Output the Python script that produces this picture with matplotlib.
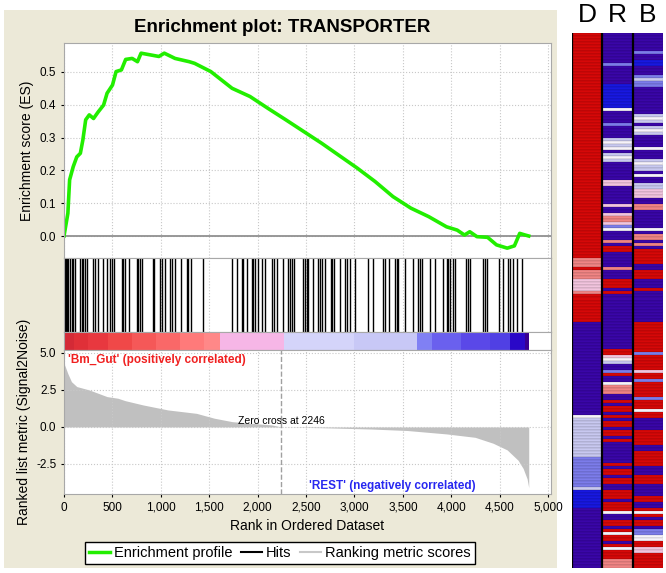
import numpy as np
import matplotlib
matplotlib.use('Agg')
import matplotlib.pyplot as plt
from matplotlib.colors import ListedColormap
from matplotlib.lines import Line2D
from matplotlib.patches import Rectangle

plt.rcParams['font.family'] = ['Liberation Sans', 'DejaVu Sans']

# running enrichment score (rank, ES)
es_rank = [0, 40, 58, 95, 132, 169, 195, 224, 261, 305, 353, 409, 445, 501, 538, 593, 637, 704,
           759, 796, 888, 980, 1036, 1147, 1294, 1349, 1516, 1736, 1921, 2106, 2291, 2659, 3028,
           3213, 3398, 3582, 3767, 3951, 4061, 4136, 4191, 4265, 4375, 4467, 4578, 4652, 4707,
           4763, 4800]
es_val = [0.0, 0.069, 0.171, 0.211, 0.241, 0.252, 0.293, 0.354, 0.369, 0.358, 0.378, 0.399,
          0.435, 0.46, 0.501, 0.506, 0.538, 0.541, 0.531, 0.557, 0.552, 0.547, 0.557, 0.541,
          0.531, 0.526, 0.501, 0.45, 0.425, 0.389, 0.354, 0.283, 0.207, 0.166, 0.12, 0.085,
          0.059, 0.028, 0.018, 0.003, 0.013, -0.002, -0.004, -0.027, -0.037, -0.03, 0.008,
          0.003, 0.0]

# positions of gene set members in the ranked list
hit_ranks = [8, 18, 28, 44, 62, 80, 96, 114, 165, 183, 199, 217, 235, 303, 320, 354, 406, 441,
             475, 493, 520, 596, 613, 630, 671, 751, 768, 785, 809, 916, 933, 992, 1009, 1043,
             1095, 1112, 1147, 1206, 1268, 1284, 1312, 1439, 1732, 1784, 1836, 1852, 1887, 1939,
             1956, 1973, 2001, 2042, 2076, 2152, 2173, 2197, 2265, 2317, 2335, 2358, 2376, 2472,
             2490, 2507, 2524, 2576, 2627, 2645, 2662, 2696, 2755, 2772, 2789, 2851, 2903, 2920,
             2955, 3006, 3137, 3195, 3292, 3316, 3361, 3419, 3437, 3454, 3523, 3609, 3661, 3678,
             3695, 3781, 3833, 3919, 3953, 3970, 3988, 4022, 4039, 4153, 4177, 4194, 4332, 4349,
             4367, 4497, 4539, 4590, 4607, 4635, 4676, 4728]

# ranked list metric (Signal2Noise)
metric_rank = [0, 40, 77, 132, 261, 445, 557, 630, 815, 1073, 1368, 1553, 1736, 1921, 2143,
               2246, 2657, 3175, 3545, 3950, 4246, 4432, 4577, 4690, 4742, 4783, 4800]
metric_val = [4.3, 3.6, 3.06, 2.73, 2.5, 2.05, 1.94, 1.78, 1.49, 1.15, 0.92, 0.59, 0.36, 0.25,
              0.14, 0.0, -0.05, -0.14, -0.24, -0.47, -0.7, -1.1, -1.55, -2.25, -2.8, -3.5, -4.1]
zero_cross = 2246

# colour bar under the hits
cbar_edges = [0, 100, 250, 450, 700, 950, 1200, 1450, 1615, 2277, 3000, 3646, 3800, 4100, 4400,
              4607, 4760, 4800]
cbar_colors = ['#d42a36', '#e03038', '#e8383f', '#f04848', '#f55858', '#fa6868', '#ff7a7a',
               '#ff8888', '#f6b6e6', '#d4d4fa', '#c8c8f6', '#8080f4', '#6a60ee', '#5a48e8',
               '#5040e4', '#2a08c8', '#3a0090']

# heatmap on the right: run lengths of (colour level, rows)
heat_labels = ['D', 'R', 'B']
heat_colors = ['#3a06a8', '#1818e0', '#7c7cea', '#c8c8f0', '#f6f2fa', '#f2c4de', '#f08484',
               '#d60808']
heat_D = [(7, 75), (6, 3), (7, 1), (6, 3), (5, 4), (6, 1), (7, 9), (0, 31), (4, 1), (3, 13),
          (2, 10), (3, 1), (1, 6), (0, 20)]
heat_R = [(0, 10), (2, 1), (0, 6), (1, 8), (4, 1), (0, 4), (2, 1), (0, 4), (3, 1), (4, 1), (3, 1),
          (4, 1), (0, 1), (3, 1), (4, 1), (3, 1), (0, 6), (5, 2), (0, 6), (5, 1), (0, 2), (5, 1),
          (6, 2), (5, 1), (2, 1), (4, 1), (0, 3), (6, 1), (0, 1), (7, 2), (0, 5), (6, 1), (0, 3),
          (7, 3), (0, 1), (7, 1), (0, 18), (7, 2), (5, 1), (4, 1), (3, 1), (0, 2), (2, 1), (7, 1),
          (0, 2), (4, 1), (6, 3), (0, 2), (7, 1), (0, 1), (7, 2), (0, 1), (7, 1), (0, 1), (7, 2),
          (0, 1), (7, 2), (0, 1), (7, 1), (0, 7), (7, 1), (0, 1), (7, 2), (0, 1), (7, 2), (0, 2),
          (7, 3), (0, 1), (7, 3), (4, 1), (0, 2), (7, 2), (0, 1), (7, 1), (4, 1), (7, 2), (0, 1),
          (7, 1), (4, 1), (7, 3), (6, 3)]
heat_B = [(0, 6), (2, 1), (0, 2), (1, 2), (0, 3), (2, 1), (3, 1), (2, 2), (0, 9), (3, 1), (4, 1),
          (3, 1), (0, 1), (3, 1), (4, 1), (3, 1), (0, 4), (4, 1), (0, 3), (3, 1), (4, 1), (3, 2),
          (0, 1), (4, 1), (0, 2), (3, 2), (5, 3), (0, 2), (6, 2), (0, 6), (4, 1), (0, 1), (6, 2),
          (0, 1), (6, 1), (0, 1), (7, 5), (0, 2), (7, 3), (0, 3), (7, 1), (0, 10), (7, 10), (2, 1),
          (7, 5), (5, 1), (7, 2), (2, 1), (7, 5), (2, 1), (7, 3), (4, 1), (7, 2), (0, 4), (7, 5),
          (0, 2), (7, 5), (0, 3), (7, 3), (0, 4), (7, 2), (0, 2), (7, 1), (4, 1), (7, 1), (0, 1),
          (7, 2), (0, 1), (2, 2), (4, 2), (7, 2), (5, 2), (7, 4)]
n_rows = 178

W, H = 666, 573
fig = plt.figure(figsize=(W / 100, H / 100), dpi=100)


def box(l, t, r, b):
    return [l / W, 1 - b / H, (r - l) / W, (b - t) / H]


fig.add_artist(Rectangle((4 / W, 1 - 568 / H), 553 / W, 558 / H, transform=fig.transFigure,
                         facecolor='#ece9d8', edgecolor='none', zorder=0))
fig.text(282 / W, 1 - 27 / H, 'Enrichment plot: TRANSPORTER', ha='center', va='center',
         fontsize=13.5, fontweight='bold')

spine_col = '#a8a8a8'
grid_kw = dict(ls=':', color='#c8c8c8', lw=0.8)
xmax = 5030


def style(ax):
    for s in ax.spines.values():
        s.set_color(spine_col)
    ax.tick_params(colors='black', labelsize=8.5, length=2)
    ax.set_xlim(0, xmax)


# enrichment profile
ax1 = fig.add_axes(box(64, 43, 551, 258))
style(ax1)
ax1.set_xticks(range(0, 5001, 500))
ax1.tick_params(axis='x', labelbottom=False, length=0)
ax1.grid(True, **grid_kw)
ax1.axhline(0, color='#909090', lw=1.3)
ax1.plot(es_rank, es_val, color='#22ee00', lw=2.6)
ax1.set_ylim(-0.067, 0.588)
ax1.set_yticks([0, 0.1, 0.2, 0.3, 0.4, 0.5])
ax1.set_yticklabels(['0.0', '0.1', '0.2', '0.3', '0.4', '0.5'])
ax1.set_ylabel('Enrichment score (ES)', fontsize=10)

# hits
ax2 = fig.add_axes(box(64, 258, 551, 332))
style(ax2)
ax2.set_xticks(range(0, 5001, 500))
ax2.grid(True, axis='x', **grid_kw)
ax2.tick_params(length=0, labelbottom=False, labelleft=False)
ax2.set_yticks([])
ax2.vlines(hit_ranks, 0, 1, color='black', lw=1.0)
ax2.set_ylim(0, 1)

# colour bar
ax3 = fig.add_axes(box(64, 332, 551, 350))
style(ax3)
ax3.bar(cbar_edges[:-1], 1, width=np.diff(cbar_edges), align='edge', color=cbar_colors, lw=0)
ax3.set_ylim(0, 1)
ax3.set_xticks([])
ax3.set_yticks([])

# ranked list metric
ax4 = fig.add_axes(box(64, 350, 551, 494))
style(ax4)
ax4.set_xticks(range(0, 5001, 500))
ax4.set_xticklabels([f'{v:,}' for v in range(0, 5001, 500)])
ax4.grid(True, **grid_kw)
ax4.fill_between(metric_rank, 0, metric_val, color='#c0c0c0', lw=0)
ax4.axvline(zero_cross, color='#a0a0a0', ls='--', lw=1)
ax4.set_ylim(-4.53, 5.2)
ax4.set_yticks([-2.5, 0, 2.5, 5.0])
ax4.set_yticklabels(['-2.5', '0.0', '2.5', '5.0'])
ax4.set_xlabel('Rank in Ordered Dataset', fontsize=10)
ax4.set_ylabel('Ranked list metric (Signal2Noise)', fontsize=10)
ax4.text(zero_cross, 0.05, f'Zero cross at {zero_cross}', ha='center', va='bottom', fontsize=7.5)
ax4.text(0.008, 0.975, "'Bm_Gut' (positively correlated)", transform=ax4.transAxes,
         ha='left', va='top', color='#f02020', fontsize=8.5, fontweight='bold')
ax4.text(2530, -4.0, "'REST' (negatively correlated)", ha='left', va='center',
         color='#2828f0', fontsize=8.5, fontweight='bold')

handles = [Line2D([], [], color='#22ee00', lw=2.5), Line2D([], [], color='black', lw=1.5),
           Line2D([], [], color='#c8c8c8', lw=1.5)]
leg = fig.legend(handles, ['Enrichment profile', 'Hits', 'Ranking metric scores'],
                 loc='center', bbox_to_anchor=(280 / W, 1 - 553 / H), ncol=3, fancybox=False,
                 edgecolor='black', fontsize=10.5, handlelength=1.4, handletextpad=0.3,
                 columnspacing=0.6, borderpad=0.3, framealpha=1)
leg.get_frame().set_linewidth(1.0)

# heatmap
cols = []
for runs in (heat_D, heat_R, heat_B):
    col = np.repeat([c for c, n in runs], [n for c, n in runs])
    if len(col) < n_rows:
        col = np.concatenate([col, np.full(n_rows - len(col), col[-1])])
    cols.append(col[:n_rows])
mat = np.column_stack(cols)

axh = fig.add_axes(box(572, 33, 663, 568))
axh.pcolormesh(mat, cmap=ListedColormap(heat_colors), vmin=-0.5, vmax=len(heat_colors) - 0.5,
               edgecolors=(0, 0, 0, 0.06), linewidth=0.3)
axh.set_ylim(n_rows, 0)
axh.set_xlim(0, 3)
axh.set_axis_off()
for i in range(3):
    axh.axvline(i, color='black', lw=1.6)
for i, lab in enumerate(heat_labels):
    axh.text(i + 0.5, 1 + 18 / 535, lab, transform=axh.get_xaxis_transform(), ha='center',
             va='center', fontsize=19)

fig.savefig('out.png', dpi=100)
